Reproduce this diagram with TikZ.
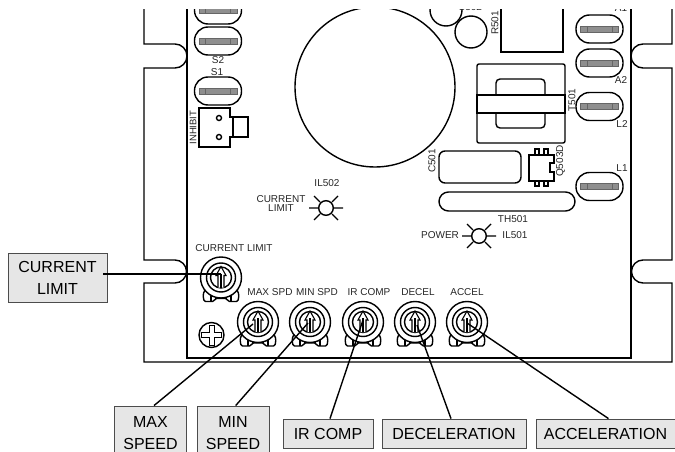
\documentclass[tikz,border=0pt]{standalone}
\usepackage{fontspec}
\setmainfont{Liberation Sans}
\definecolor{tagfill}{HTML}{E6E6E6}
\definecolor{tabgray}{HTML}{8F8F8F}
\tikzset{
  tag/.style={draw=black!70, fill=tagfill, line width=.9pt, inner sep=0pt, align=center, font=\fontsize{16}{22}\selectfont},
  silk/.style={inner sep=0pt, align=center, text=black!85, font=\fontsize{10}{9.5}\selectfont},
  wire/.style={line width=1.4pt},
  part/.style={line width=1.4pt},
  pot/.pic={
    \draw[part, fill=white, rounded corners=1.5pt] (-15,10) -- (-18,17) -- (-17,24) -- (-7,24) -- (-6,21) -- (6,21) -- (7,24) -- (17,24) -- (18,17) -- (15,10) -- cycle;
    \draw[part] (-5,21) -- (-5,18) -- (5,18) -- (5,21) (-10,16) -- (-10,24) (10,16) -- (10,24);
    \draw[part, fill=white] (0,0) circle (20.5pt);
    \draw[part] (0,0) circle (14.5pt);
    \draw[part] (0,0) circle (10.5pt);
    \draw[line width=1.1pt, fill=white] (-3,10) -- (-3,-2) -- (-5,-2) -- (0,-11) -- (5,-2) -- (3,-2) -- (3,10);
    \draw[line width=1.1pt] (0,-4) -- (0,10);
  },
  slot/.pic={
    \draw[part, fill=white, rounded corners=13.5pt] (-23.5,-14) rectangle (23.5,14);
    \fill[tabgray] (-19,-3) rectangle (19,3);
    \draw[black!60, line width=.6pt] (-19,-3) rectangle (19,3) (-12.5,-3) -- (-12.5,3) (12.5,-3) -- (12.5,3);
  },
  lamp/.pic={
    \draw[part] (0,0) circle (7.3pt);
    \draw[part] (-17,0) -- (-8,0) (8,0) -- (17,0) (-12,-12) -- (-6,-6) (12,-12) -- (6,-6) (-12,12) -- (-6,6) (12,12) -- (6,6);
  }
}
\begin{document}
\begin{tikzpicture}[x=1pt, y=-1pt]
\useasboundingbox (0,0) rectangle (675,452);
\begin{scope}
\clip (0,10) rectangle (675,452);
% chassis
\draw[part] (144,0) -- (144,44) -- (175,44) arc (90:-90:12pt) -- (144,68) -- (144,260) -- (175,260) arc (90:-90:11.5pt) -- (144,283) -- (144,362) -- (672,362) -- (672,283) -- (643,283) arc (270:90:11.5pt) -- (672,260) -- (672,68) -- (643,68) arc (270:90:12pt) -- (672,44) -- (672,0);
% board
\draw[part] (187,0) -- (187,358) -- (631,358) -- (631,0);
% big cap
\draw[part] (375,87) circle (80pt);
\draw[part] (446,10) circle (16pt);
\draw[part] (471,32) circle (16pt);
\draw[part] (501,0) -- (501,52) -- (563,52) -- (563,0);
% spade terminals
\pic at (218,10) {slot};
\pic at (218,41) {slot};
\pic at (218,91) {slot};
\pic at (599.5,29) {slot};
\pic at (599.5,63) {slot};
\pic at (599.5,106.5) {slot};
\pic at (599.5,186.5) {slot};
% inhibit
\draw[part] (199,108) -- (230,108) -- (230,117) -- (248,117) -- (248,137) -- (230,137) -- (230,147) -- (199,147) -- cycle;
\draw[part] (233,117) -- (233,137);
\draw[part] (219,118) circle (2.5pt) (219,137) circle (2.5pt);
% transformer
\draw[part, rounded corners=2pt] (477,64) rectangle (565,143);
\draw[part, rounded corners=4pt] (496,79) rectangle (545,128);
\draw[part, fill=white] (477,95) rectangle (565,113);
\draw[line width=1.9pt] (477,95) -- (565,95) (477,113) -- (565,113);
% capacitor and thermistor
\draw[part, rounded corners=6pt] (439,151) rectangle (521,183);
\draw[part, rounded corners=9.5pt] (439,192) rectangle (575,211);
% transistor
\draw[line width=1.1pt] (535,149) rectangle (539,155) (544,149) rectangle (548,155) (535,181) rectangle (539,186) (544,181) rectangle (548,186);
\draw[part] (529,155) -- (554,155) -- (554,163) -- (550,163) -- (550,172) -- (554,172) -- (554,181) -- (529,181) -- cycle;
\node[silk] (lblc) at (470,7) {C502};
\node[silk] (lbla) at (621,8) {A1};
\end{scope}
% lamps
\pic at (326,208) {lamp};
\pic at (479,236) {lamp};
% trimmers
\pic at (221,277.5) {pot};
\pic at (258,322) {pot};
\pic at (310,322) {pot};
\pic at (363,322) {pot};
\pic at (415,322) {pot};
\pic at (467,322) {pot};
% screw
\draw[part] (211.5,335) circle (12.5pt);
\draw[line width=1pt] (209,325) -- (214,325) -- (214,332.5) -- (221.5,332.5) -- (221.5,337.5) -- (214,337.5) -- (214,345) -- (209,345) -- (209,337.5) -- (201.5,337.5) -- (201.5,332.5) -- (209,332.5) -- cycle;
% board labels
\node[silk] (lbls2) at (218,60.5) {S2};
\node[silk] (lbls1) at (217,72) {S1};
\node[silk, rotate=90, font=\fontsize{9.5}{10}\selectfont] (lblinh) at (193,127.5) {INHIBIT};
\node[silk, rotate=90] (lblr) at (495,23) {R501};
\node[silk] (lbla2) at (621,80.5) {A2};
\node[silk] (lbll2) at (622,124) {L2};
\node[silk] (lbll1) at (622,168) {L1};
\node[silk, rotate=90] (lblt) at (572,100) {T501};
\node[silk, rotate=90] (lblcap) at (432,161) {C501};
\node[silk, rotate=90] (lblq) at (560.5,161) {Q503D};
\node[silk] (lblth) at (513,219) {TH501};
\node[silk] (lblil1) at (515,235) {IL501};
\node[silk] (lblil2) at (327,183) {IL502};
\node[silk] (lblcl) at (281,203.5) {CURRENT\\LIMIT};
\node[silk] (lblpw) at (440,235.5) {POWER};
\node[silk] (lblcur) at (234,248) {CURRENT LIMIT};
\node[silk] (lblmax) at (270,292) {MAX SPD};
\node[silk] (lblmin) at (317,292) {MIN SPD};
\node[silk] (lblir) at (369,292) {IR COMP};
\node[silk] (lbldec) at (418,292) {DECEL};
\node[silk] (lblacc) at (467,292) {ACCEL};
% call-outs
\node[tag, minimum width=99pt, minimum height=49pt] (tagcur) at (57.5,277.5) {CURRENT\\LIMIT};
\node[tag, minimum width=71.5pt, minimum height=54pt] (tagmax) at (150.5,433) {MAX\\SPEED};
\node[tag, minimum width=72pt, minimum height=54pt] (tagmin) at (233,433) {MIN\\SPEED};
\node[tag, minimum width=90pt, minimum height=29.5pt] (tagir) at (328,433.8) {IR COMP};
\node[tag, minimum width=144pt, minimum height=29.5pt] (tagdec) at (454,433.8) {DECELERATION};
\node[tag, minimum width=139pt, minimum height=29.5pt] (tagacc) at (605.5,433.8) {ACCELERATION};
\coordinate (potcur) at (221,274);
\coordinate (potmax) at (253,324);
\coordinate (potmin) at (308,323);
\coordinate (potir) at (363,320);
\coordinate (potdec) at (417,325);
\coordinate (potacc) at (467,323);
\draw[wire] ([shift={(-4pt,3.5pt)}]tagcur.east) -- (potcur);
\draw[wire] ([xshift=3.5pt]tagmax.north) -- (potmax);
\draw[wire] ([xshift=2.7pt]tagmin.north) -- (potmin);
\draw[wire] ([xshift=2pt]tagir.north) -- (potir);
\draw[wire] ([xshift=-3pt]tagdec.north) -- (potdec);
\draw[wire] ([xshift=3pt]tagacc.north) -- (potacc);
\end{tikzpicture}
\end{document}
